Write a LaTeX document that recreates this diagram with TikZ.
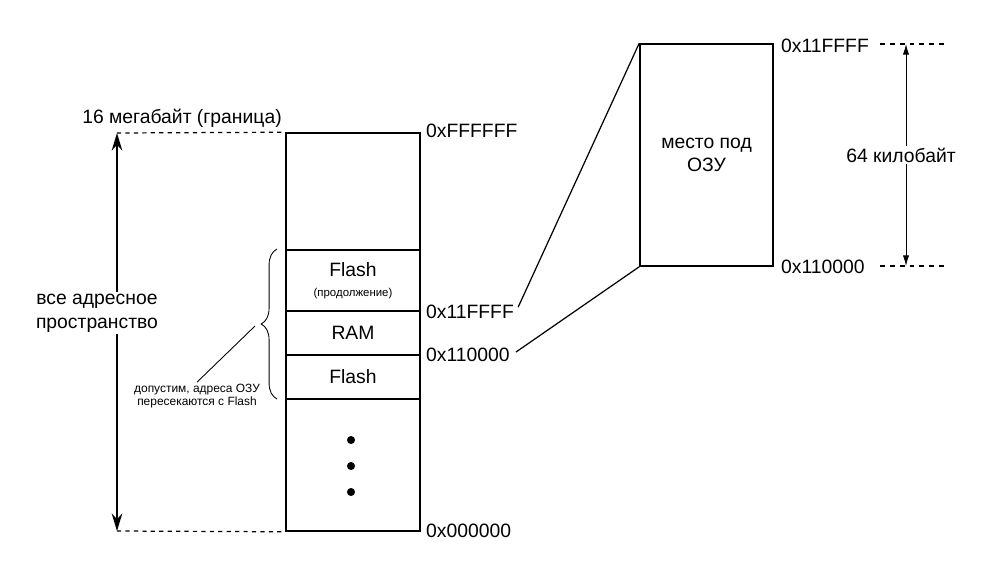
\documentclass[tikz,border=0pt]{standalone}
\usepackage{fontspec}
\setmainfont{Liberation Sans}
\usetikzlibrary{arrows.meta, decorations.pathreplacing}

\begin{document}
\begin{tikzpicture}[x=0.02cm, y=-0.02cm,
  txt/.style={font=\fontsize{11}{13.5}\selectfont, align=center},
  note/.style={font=\fontsize{6.8}{7.2}\selectfont, align=center, inner sep=1pt},
  region/.style={draw, line width=0.9pt, minimum width=2.68cm, inner sep=0pt, txt},
  addr/.style={txt, anchor=west, inner sep=1pt},
  guide/.style={dash pattern=on 2.4pt off 2.4pt, line width=0.7pt},
  wide/.style={{Stealth[length=10pt,width=6pt]}-{Stealth[length=10pt,width=6pt]}, line width=0.9pt},
  narrow/.style={{Latex[length=6pt,width=3.5pt]}-{Latex[length=6pt,width=3.5pt]}, line width=0.5pt},
  link/.style={line width=0.7pt, shorten <=3pt},
]
\useasboundingbox (0,0) rectangle (1000,579);

% address space column
\node[region, minimum height=2.34cm] (top) at (353,191.5) {};
\node[region, minimum height=1.22cm] (flashhi) at (353,280.5) {Flash\\[-2pt]{\fontsize{6.5}{7}\selectfont (продолжение)}};
\node[region, minimum height=0.88cm] (ram) at (353,333) {RAM};
\node[region, minimum height=0.88cm] (flashlo) at (353,377) {Flash};
\node[region, minimum height=2.64cm] (rest) at (353,465) {};
\foreach \y in {440,466,492}
  \fill (351,\y) circle[radius=2.3pt];

\node[addr] (aTop) at (424,131) {0xFFFFFF};
\node[addr] (aHi) at (424,312) {0x11FFFF};
\node[addr] (aLo) at (424,355) {0x110000};
\node[addr] (aBot) at (424,531) {0x000000};

% whole space
\coordinate (gTop) at (117,133);
\coordinate (gBot) at (117,531);
\draw[guide] (gTop) -- (top.north west);
\draw[guide] (gBot) -- (rest.south west);
\node[txt] (limit) at (182,118) {16 мегабайт (граница)};
\draw[wide] (gBot) -- (gTop);
\node[txt, fill=white, inner sep=1pt] (whole) at (97,313) {все адресное\\пространство};

% overlap note
\draw[decorate, decoration={brace, amplitude=9pt}, line width=0.5pt] (277,399) -- (277,249);
\coordinate (braceTip) at (255,326);
\node[note] (overlap) at (197,396) {допустим, адреса ОЗУ\\пересекаются с Flash};
\draw[line width=0.5pt] (braceTip) -- (overlap.north);

% RAM window
\node[draw, line width=0.9pt, minimum width=2.66cm, minimum height=4.44cm, inner sep=0pt, txt] (ramwin) at (706.5,155) {место под\\ОЗУ};
\draw[link] (aHi.east) -- (ramwin.north west);
\draw[link] (aLo.east) -- (ramwin.south west);

\node[addr] (bHi) at (779,46) {0x11FFFF};
\node[addr] (bLo) at (779,267) {0x110000};
\coordinate (kTopL) at (880,44);
\coordinate (kTopR) at (948,44);
\coordinate (kBotL) at (880,266);
\coordinate (kBotR) at (948,266);
\coordinate (kTop) at (906,44);
\coordinate (kBot) at (906,266);
\draw[guide, dash pattern=on 2.8pt off 2.8pt] (kTopL) -- (kTopR);
\draw[guide, dash pattern=on 2.8pt off 2.8pt] (kBotL) -- (kBotR);
\draw[narrow] (kBot) -- (kTop);
\node[txt, fill=white, inner sep=1pt] (size) at (901,155) {64 килобайт};
\end{tikzpicture}
\end{document}
